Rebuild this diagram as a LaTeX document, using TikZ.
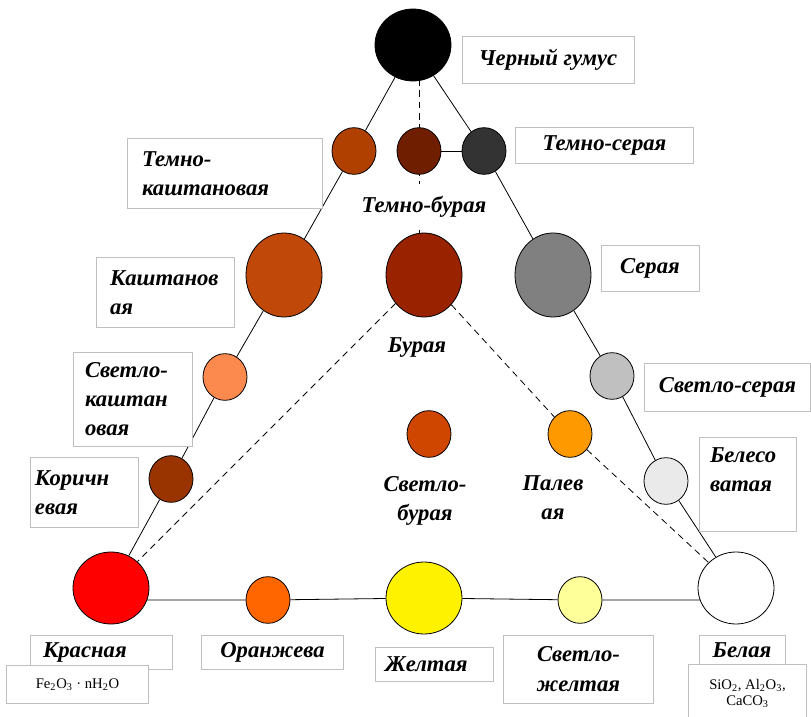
\documentclass[tikz,border=0pt]{standalone}
\usepackage{fontspec}
\usepackage{xcolor}
\setmainfont{Liberation Serif}
\usetikzlibrary{shapes.geometric, backgrounds}

\newcommand\lblfont{\fontsize{17pt}{22pt}\selectfont\bfseries\itshape}
\newcommand\chemfont{\fontsize{11pt}{11.5pt}\selectfont}

\definecolor{dchestcol}{RGB}{176,64,0}
\definecolor{dbrncol}{RGB}{112,30,0}
\definecolor{dgrycol}{RGB}{51,51,51}
\definecolor{chestcol}{RGB}{192,72,8}
\definecolor{brncol}{RGB}{153,34,0}
\definecolor{grycol}{RGB}{128,128,128}
\definecolor{lchestcol}{RGB}{252,138,78}
\definecolor{lgrycol}{RGB}{192,192,192}
\definecolor{korcol}{RGB}{153,51,0}
\definecolor{lbrncol}{RGB}{206,70,0}
\definecolor{palecol}{RGB}{255,153,0}
\definecolor{whitishcol}{RGB}{234,234,234}
\definecolor{orngcol}{RGB}{255,102,0}
\definecolor{lyelcol}{RGB}{255,255,153}

\begin{document}
\begin{tikzpicture}[x=0.75pt, y=-0.75pt,
    soil/.style={ellipse, draw=black, line width=0.6pt, inner sep=0pt},
    big/.style={soil, minimum width=57pt, minimum height=63pt},
    flat/.style={soil, minimum width=57pt, minimum height=54pt},
    small/.style={soil, minimum width=33pt, minimum height=35pt},
    lbl/.style={draw=black!25, fill=white, line width=0.6pt, font=\lblfont, inner sep=0pt, align=center},
    free/.style={fill=white, font=\lblfont, align=center, inner sep=1pt},
    chem/.style={lbl, font=\chemfont},
    link/.style={line width=0.6pt},
    dlink/.style={link, dash pattern=on 5pt off 3.5pt}]
    \useasboundingbox (0,0) rectangle (811,717);

    % soils
    \node[flat, fill=black] (blk) at (413,45) {};
    \node[small, fill=dchestcol] (dchest) at (354,151) {};
    \node[small, fill=dbrncol] (dbrn) at (419,151) {};
    \node[small, fill=dgrycol] (dgry) at (484,151) {};
    \node[big, fill=chestcol] (chest) at (284,275) {};
    \node[big, fill=brncol] (brn) at (424,275) {};
    \node[big, fill=grycol] (gry) at (553,275) {};
    \node[small, fill=lchestcol] (lchest) at (225,377) {};
    \node[small, fill=lgrycol] (lgry) at (612,376) {};
    \node[small, fill=korcol] (kor) at (171,479) {};
    \node[small, fill=lbrncol] (lbrn) at (429,434) {};
    \node[small, fill=palecol] (pale) at (570,434) {};
    \node[small, fill=whitishcol] (whitish) at (666,481) {};
    \node[flat, fill=red] (red) at (111,588) {};
    \node[small, fill=orngcol] (orng) at (268,600) {};
    \node[flat, fill=yellow] (yel) at (424,598) {};
    \node[small, fill=lyelcol] (lyel) at (580,600) {};
    \node[flat, fill=white] (wht) at (736,588) {};

    % lines
    \begin{scope}[on background layer]
        \draw[link] (blk) -- (dchest) -- (chest) -- (lchest) -- (kor) -- (red);
        \draw[link] (blk) -- (dgry) -- (gry) -- (lgry) -- (whitish) -- (wht);
        \draw[link] (dbrn) -- (dgry);
        \draw[link] (red |- orng) -- (orng) -- (yel) -- (lyel) -- (wht |- lyel);
        \draw[dlink] (dbrn |- blk) -- (dbrn |- brn);
        \draw[dlink] (brn) -- (red);
        \draw[dlink] (brn) -- (pale) -- (wht);
    \end{scope}

    % names
    \node[lbl, minimum width=129pt, minimum height=35pt] (tblk) at (548,60) {Черный гумус};
    \node[lbl, minimum width=133pt, minimum height=27pt] (tdgry) at (604.5,145) {Темно-серая};
    \node[lbl, align=left, text width=123.75pt, inner xsep=11.25pt, minimum height=53pt] (tdchest) at (224.5,173.5) {Темно-\\каштановая};
    \node[lbl, align=left, text width=82.5pt, inner xsep=10.5pt, minimum height=53pt] (tchest) at (165,292.5) {Каштанов\\ая};
    \node[lbl, align=left, text width=71.25pt, inner xsep=9pt, minimum height=70.5pt] (tlchest) at (132.5,399) {Светло-\\каштан\\овая};
    \node[lbl, align=left, text width=73.5pt, inner xsep=3.75pt, minimum height=53pt] (tkor) at (84,492.5) {Коричн\\евая};
    \node[lbl, minimum width=73.5pt, minimum height=35pt] (tgry) at (650,268.5) {Серая};
    \node[lbl, minimum width=124pt, minimum height=36pt] (tlgry) at (727.5,387) {Светло-серая};
    \node[lbl, align=left, text width=56.25pt, inner xsep=8.25pt, minimum height=71pt] (twhitish) at (747.5,484.5) {Белесо\\ватая\\~};
    \node[lbl, align=left, text width=87pt, inner xsep=9.75pt, minimum height=26pt] (tred) at (101,652.5) {Красная};
    \node[chem, minimum width=106pt, minimum height=28pt] (cred) at (77.5,684.5) {Fe\textsubscript{2}O\textsubscript{3} · nH\textsubscript{2}O};
    \node[lbl, minimum width=106pt, minimum height=26pt] (torng) at (272.5,652.5) {Оранжева};
    \node[lbl, align=left, text width=73.5pt, inner xsep=7.5pt, minimum height=26pt] (tyel) at (434,664.5) {Желтая};
    \node[lbl, minimum width=112pt, minimum height=51pt] (tlyel) at (578.5,669) {Светло-\\желтая};
    \node[lbl, minimum width=64.5pt, minimum height=22.5pt] (twht) at (742,650) {Белая};
    \node[chem, minimum width=89pt, minimum height=43pt] (cwht) at (747.5,693.5) {SiO\textsubscript{2}, Al\textsubscript{2}O\textsubscript{3},\\CaCO\textsubscript{3}};

    \node[free, minimum height=35pt] (tdbrn) at (424,207) {Темно-бурая};
    \node[free] (tbrn) at (417,348) {Бурая};
    \node[free] (tlbrn) at (425,501) {Светло-\\бурая};
    \node[free] (tpale) at (553,498) {Палев\\ая};
\end{tikzpicture}
\end{document}
